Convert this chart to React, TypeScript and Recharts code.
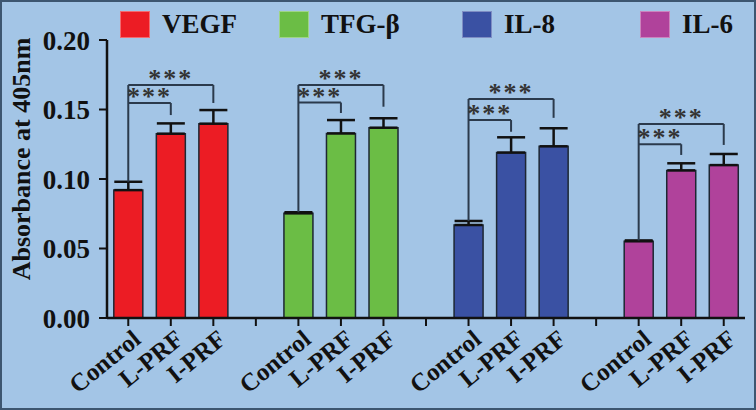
import React from 'react';
import { BarChart, Bar, XAxis, YAxis, ErrorBar, Cell, ReferenceLine, Label } from 'recharts';

const GROUPS = ['VEGF', 'TFG-β', 'IL-8', 'IL-6'];
const GROUP_COLORS = ['#ec1c24', '#6bbd45', '#3a51a3', '#b0429b'];
const CONDITIONS = ['Control', 'L-PRF', 'I-PRF'];

const VEGF_MEAN = [0.092, 0.1326, 0.1398];
const VEGF_ERR = [0.006, 0.0074, 0.0098];
const TGF_MEAN = [0.0753, 0.1328, 0.1369];
const TGF_ERR = [0.0008, 0.0096, 0.0068];
const IL8_MEAN = [0.0669, 0.119, 0.1235];
const IL8_ERR = [0.0029, 0.011, 0.013];
const IL6_MEAN = [0.0552, 0.1062, 0.11];
const IL6_ERR = [0.0006, 0.0051, 0.008];

const MEANS = [VEGF_MEAN, TGF_MEAN, IL8_MEAN, IL6_MEAN];
const ERRS = [VEGF_ERR, TGF_ERR, IL8_ERR, IL6_ERR];

const Y_TICKS = [0, 0.05, 0.1, 0.15, 0.2];

// significance brackets (data units)
const BRACKET_OUTER = [0.1676, 0.1676, 0.1576, 0.1396];
const BRACKET_OUTER_END = [0.1547, 0.152, 0.144, 0.1245];
const BRACKET_INNER = [0.1547, 0.155, 0.1424, 0.125];
const BRACKET_INNER_END = [0.146, 0.1475, 0.134, 0.1173];
const SIG_TEXT = '***';

const Y_LABEL = 'Absorbance at 405nm';

const FONT = '"Liberation Serif", "Times New Roman", serif';
const BG = '#a3c5e6';
const BRACKET_COLOR = '#2b3a4c';

type Row = { key: string; label: string; value: number | null; err: number[] | null; color: string };

const rows: Row[] = [];
GROUPS.forEach((g, gi) => {
  if (gi > 0) rows.push({ key: `gap-${gi}`, label: '', value: null, err: null, color: 'none' });
  CONDITIONS.forEach((c, ci) => {
    rows.push({ key: `${g}|${c}`, label: c, value: MEANS[gi][ci], err: [0, ERRS[gi][ci]], color: GROUP_COLORS[gi] });
  });
});
const labelOf: Record<string, string> = {};
rows.forEach((r) => (labelOf[r.key] = r.label));

const XTick = (props: any) => {
  const { x, y, payload } = props;
  const text = labelOf[payload.value] || '';
  if (!text) return null;
  return (
    <g transform={`translate(${x + 14},${y + 14})`}>
      <text
        x={0}
        y={0}
        textAnchor="end"
        transform="rotate(-39)"
        fontFamily={FONT}
        fontWeight="bold"
        fontSize={25}
        fill="#111"
      >
        {text}
      </text>
    </g>
  );
};

const YLabel = (props: any) => {
  const vb = props.viewBox || { x: 0, y: 40, width: 107, height: 278 };
  const cx = vb.x + 21;
  const cy = vb.y + vb.height / 2 - 20;
  return (
    <text
      x={cx}
      y={cy}
      transform={`rotate(-90, ${cx}, ${cy})`}
      textAnchor="middle"
      dominantBaseline="central"
      fontFamily={FONT}
      fontWeight="bold"
      fontSize={26}
      fill="#111"
    >
      {Y_LABEL}
    </text>
  );
};

const LEGEND_LEFT = [120, 279, 462, 640];

const starLabel = (
  <Label value={SIG_TEXT} position="top" offset={-2} fill="#333" fontSize={26} fontWeight="bold" fontFamily={FONT} letterSpacing={2} />
);

export default function App() {
  const brackets: React.ReactNode[] = [];
  GROUPS.forEach((g, gi) => {
    const kC = `${g}|${CONDITIONS[0]}`;
    const kL = `${g}|${CONDITIONS[1]}`;
    const kI = `${g}|${CONDITIONS[2]}`;
    const ctrlTop = MEANS[gi][0] + ERRS[gi][0];
    const common = { stroke: BRACKET_COLOR, strokeWidth: 2, ifOverflow: 'visible' as const };
    brackets.push(
      <ReferenceLine key={`o-${gi}`} segment={[{ x: kC, y: BRACKET_OUTER[gi] }, { x: kI, y: BRACKET_OUTER[gi] }]} {...common}>
        {starLabel}
      </ReferenceLine>,
      <ReferenceLine key={`od-${gi}`} segment={[{ x: kI, y: BRACKET_OUTER[gi] }, { x: kI, y: BRACKET_OUTER_END[gi] }]} {...common} />,
      <ReferenceLine key={`i-${gi}`} segment={[{ x: kC, y: BRACKET_INNER[gi] }, { x: kL, y: BRACKET_INNER[gi] }]} {...common}>
        {starLabel}
      </ReferenceLine>,
      <ReferenceLine key={`id-${gi}`} segment={[{ x: kL, y: BRACKET_INNER[gi] }, { x: kL, y: BRACKET_INNER_END[gi] }]} {...common} />,
      <ReferenceLine key={`l-${gi}`} segment={[{ x: kC, y: BRACKET_OUTER[gi] }, { x: kC, y: ctrlTop }]} {...common} />
    );
  });

  return (
    <div
      style={{
        position: 'absolute',
        left: 0,
        top: 0,
        width: 756,
        height: 410,
        background: BG,
        boxSizing: 'border-box',
        border: '2px solid #3d5670',
        overflow: 'hidden',
      }}
    >
      <div style={{ position: 'absolute', left: -2, top: -2 }}>
        <BarChart
          width={756}
          height={410}
          data={rows}
          margin={{ top: 40, right: 11, left: 0, bottom: 0 }}
          barCategoryGap="16%"
        >
          <XAxis
            dataKey="key"
            interval={0}
            height={92}
            tick={<XTick />}
            tickSize={8}
            tickMargin={2}
            axisLine={{ stroke: '#111', strokeWidth: 2.5 }}
            tickLine={{ stroke: '#111', strokeWidth: 2 }}
          />
          <YAxis
            domain={[0, 0.2]}
            ticks={Y_TICKS}
            tickFormatter={(v: number) => v.toFixed(2)}
            width={107}
            tickSize={8}
            tickMargin={9}
            axisLine={{ stroke: '#111', strokeWidth: 2.5 }}
            tickLine={{ stroke: '#111', strokeWidth: 2 }}
            tick={{ fontFamily: FONT, fontWeight: 'bold', fontSize: 27, fill: '#111' }}
            label={{ content: <YLabel /> } as any}
          />
          <Bar dataKey="value" isAnimationActive={false} stroke="#1d2733" strokeWidth={1.5}>
            {rows.map((r) => (
              <Cell key={r.key} fill={r.color} />
            ))}
            <ErrorBar dataKey="err" width={14} stroke="#111" strokeWidth={2.5} direction="y" />
          </Bar>
          {brackets}
        </BarChart>
      </div>
      {GROUPS.map((g, gi) => (
        <div
          key={g}
          style={{
            position: 'absolute',
            left: LEGEND_LEFT[gi] - 2,
            top: 7,
            display: 'flex',
            alignItems: 'center',
            fontFamily: FONT,
            fontWeight: 'bold',
            fontSize: 27,
            color: '#111',
            whiteSpace: 'nowrap',
          }}
        >
          <div
            style={{
              width: 30,
              height: 27,
              background: GROUP_COLORS[gi],
              boxSizing: 'border-box',
              border: '1.5px solid rgba(255,255,255,0.35)',
              marginRight: 12,
            }}
          />
          <span style={{ lineHeight: '30px' }}>{g}</span>
        </div>
      ))}
    </div>
  );
}
